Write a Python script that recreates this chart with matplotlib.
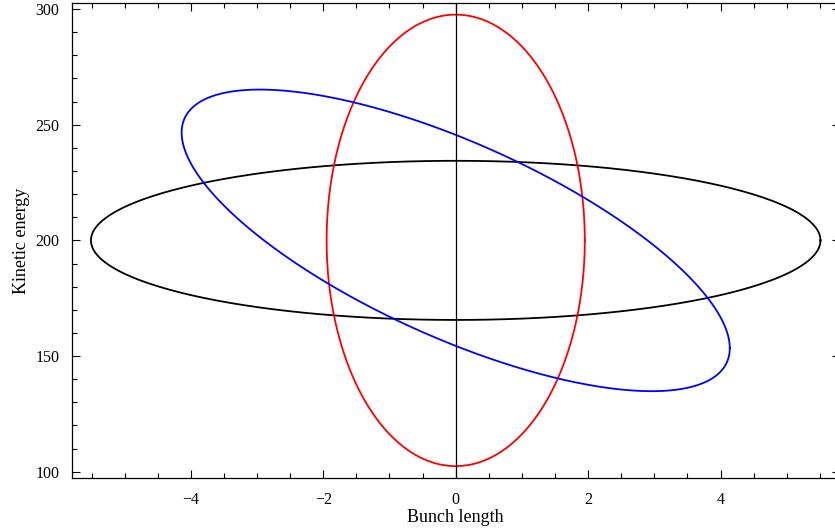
import numpy as np
import matplotlib
matplotlib.use("Agg")
import matplotlib.pyplot as plt
from matplotlib.ticker import MultipleLocator

plt.rcParams['font.family'] = ['Liberation Serif', 'DejaVu Serif']

# phase-space ellipses: x = a*cos(t), y = centre + b*cos(t + phase)
centre_energy = 200.0
colors = ['black', 'red', 'blue']
half_length = [5.51, 1.95, 4.14]      # bunch length amplitude
half_energy = [34.4, 97.6, 65.2]      # kinetic energy amplitude
phase_deg = [90.0, 90.0, 135.6]

fig = plt.figure(figsize=(8.35, 5.31), dpi=100)
ax = fig.add_axes([0.0859, 0.1004, 0.9197, 0.8934])

t = np.linspace(0, 2 * np.pi, 400)
for c, a, b, ph in zip(colors, half_length, half_energy, phase_deg):
    x = a * np.cos(t)
    y = centre_energy + b * np.cos(t + np.radians(ph))
    ax.plot(x, y, color=c, lw=1.3)

ax.axvline(0, color='black', lw=0.9)

ax.set_xlim(-5.8, 5.8)
ax.set_ylim(97.4, 302.5)

ax.xaxis.set_major_locator(MultipleLocator(2))
ax.xaxis.set_minor_locator(MultipleLocator(0.5))
ax.yaxis.set_major_locator(MultipleLocator(50))
ax.yaxis.set_minor_locator(MultipleLocator(10))
ax.tick_params(which='both', direction='in', top=True, right=True,
               labelsize=11.5, width=0.8)
ax.tick_params(which='major', length=6)
ax.tick_params(which='minor', length=3.5)
ax.tick_params(axis='x', which='major', pad=10)
ax.tick_params(axis='y', which='major', pad=9)
ax.set_xticks([-4, -2, 0, 2, 4])
ax.set_xticklabels(['\u22124', '\u22122', '0', '2', '4'])
for s in ax.spines.values():
    s.set_linewidth(0.9)

ax.set_xlabel('Bunch length', fontsize=13, labelpad=1)
ax.set_ylabel('Kinetic energy', fontsize=13, labelpad=4)

fig.savefig('out.png', dpi=100)
